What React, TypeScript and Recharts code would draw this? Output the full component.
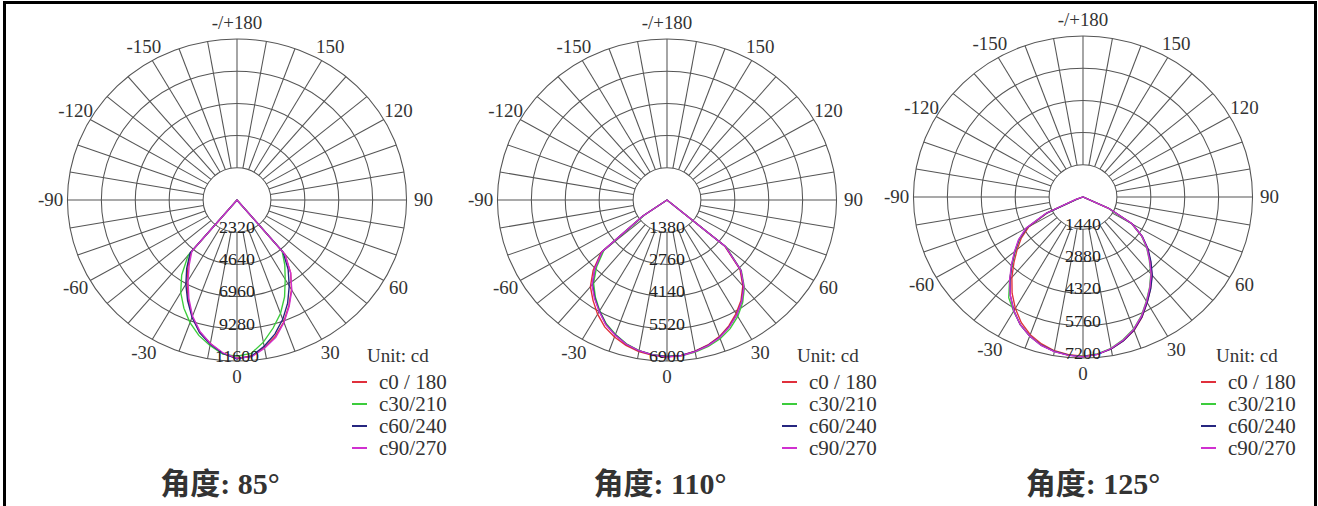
import React from 'react'
import { RadarChart, Radar, PolarGrid, PolarAngleAxis, PolarRadiusAxis } from 'recharts'

// gamma angles (deg from nadir) at which the intensity values below are read
const gammaAngles = [
  -75, -70, -65, -60, -55, -50, -45, -40, -35, -30, -25, -20, -15, -10, -5, 0,
  5, 10, 15, 20, 25, 30, 35, 40, 45, 50, 55, 60, 65, 70, 75,
]

// 85 degree beam
const c0_85 = [0, 0, 0, 0, 0, 0, 0, 4900, 5850, 6850, 7900, 8950, 9850, 10500, 11100, 11400, 11300, 10800, 10150, 9350, 8400, 7450, 6400, 5100, 0, 0, 0, 0, 0, 0, 0]
const c30_85 = [0, 0, 0, 0, 0, 0, 0, 5200, 6600, 7700, 8600, 9400, 10100, 10650, 11150, 11250, 11100, 10400, 9550, 8700, 7700, 6600, 5700, 4800, 0, 0, 0, 0, 0, 0, 0]
const c60_85 = [0, 0, 0, 0, 0, 0, 0, 5000, 6000, 7000, 8000, 9000, 9900, 10550, 11100, 11450, 11300, 10700, 10000, 9150, 8200, 7150, 6100, 4900, 0, 0, 0, 0, 0, 0, 0]
const c90_85 = [0, 0, 0, 0, 0, 0, 0, 4800, 5700, 6700, 7800, 8900, 9800, 10500, 11050, 11400, 11350, 10850, 10250, 9400, 8450, 7500, 6400, 5100, 0, 0, 0, 0, 0, 0, 0]

// 110 degree beam
const c0_110 = [0, 0, 0, 0, 1200, 3500, 4250, 4850, 5250, 5650, 6000, 6250, 6450, 6600, 6680, 6720, 6680, 6580, 6430, 6230, 5950, 5620, 5250, 4800, 4200, 3050, 0, 0, 0, 0, 0]
const c30_110 = [0, 0, 0, 0, 1100, 3350, 4050, 4650, 5080, 5480, 5850, 6130, 6380, 6550, 6650, 6700, 6700, 6620, 6500, 6330, 6080, 5760, 5370, 4900, 4280, 3150, 0, 0, 0, 0, 0]
const c60_110 = [0, 0, 0, 0, 1200, 3450, 4150, 4720, 5120, 5500, 5880, 6150, 6400, 6560, 6660, 6700, 6680, 6590, 6450, 6260, 5990, 5680, 5300, 4850, 4250, 3100, 0, 0, 0, 0, 0]
const c90_110 = [0, 0, 0, 0, 1250, 3450, 4150, 4750, 5150, 5520, 5900, 6170, 6400, 6560, 6660, 6730, 6700, 6600, 6460, 6270, 6000, 5680, 5300, 4870, 4250, 3100, 0, 0, 0, 0, 0]

// 125 degree beam
const c0_125 = [0, 300, 1650, 2650, 3200, 3650, 4150, 4700, 5250, 5750, 6200, 6550, 6800, 6980, 7080, 7120, 7050, 6900, 6650, 6350, 5930, 5450, 5000, 4550, 4050, 3580, 3050, 2400, 1200, 0, 0]
const c30_125 = [0, 300, 1700, 2750, 3300, 3750, 4250, 4850, 5500, 5900, 6300, 6620, 6860, 7010, 7100, 7130, 7040, 6870, 6600, 6280, 5860, 5380, 4930, 4480, 3980, 3530, 3030, 2380, 1180, 0, 0]
const c60_125 = [0, 300, 1700, 2750, 3320, 3780, 4280, 4820, 5380, 5870, 6300, 6620, 6860, 7010, 7100, 7140, 7060, 6900, 6650, 6330, 5920, 5450, 5010, 4580, 4080, 3600, 3080, 2420, 1220, 0, 0]
const c90_125 = [0, 320, 1750, 2800, 3350, 3800, 4300, 4850, 5380, 5880, 6300, 6620, 6870, 7020, 7110, 7150, 7060, 6880, 6620, 6300, 5880, 5400, 4950, 4500, 4000, 3550, 3050, 2400, 1200, 0, 0]

const ticks85 = [2320, 4640, 6960, 9280, 11600]
const ticks110 = [1380, 2760, 4140, 5520, 6900]
const ticks125 = [1440, 2880, 4320, 5760, 7200]

const seriesKeys = ['c0', 'c30', 'c60', 'c90']
const seriesNames = ['c0 / 180', 'c30/210', 'c60/240', 'c90/270']
const seriesColors = ['#e0303c', '#3ccc3c', '#262680', '#d030d0']

// angles around the circle: 0 = down, counter-clockwise, 180 = up
const gridAngles = Array.from({ length: 36 }, (_, i) => i * 10)
const curveAngles = Array.from({ length: 72 }, (_, i) => i * 5)

const SERIF = '"Liberation Serif", "Times New Roman", serif'
const R = 161
const W = 440
const H = 420
const CX = 220
const CY = 210
const STRETCH = 1.053

const angleLabel = (t: number) => (t === 180 ? '-/+180' : String(t > 180 ? t - 360 : t))

const buildRows = (values: number[][]) =>
  curveAngles.map((a) => {
    const g = a > 180 ? a - 360 : a
    const i = gammaAngles.indexOf(g)
    const row: Record<string, number> = { angle: a }
    seriesKeys.forEach((k, s) => {
      row[k] = i >= 0 ? values[s][i] : 0
    })
    return row
  })

const AngleTick = (props: any) => {
  const { x, y, payload } = props
  const v = Number(payload.value)
  if (v % 30 !== 0) return <g />
  return (
    <text x={x} y={y} textAnchor="middle" dominantBaseline="central" fontSize={18} fill="#333" fontFamily={SERIF}>
      {angleLabel(v)}
    </text>
  )
}

const RadiusTick = (props: any) => {
  const { x, y, payload } = props
  return (
    <text x={x} y={y - 5} textAnchor="middle" dominantBaseline="central" fontSize={17} fill="#222" fontFamily={SERIF}>
      {payload.value}
    </text>
  )
}

interface PanelProps {
  cx: number
  cy: number
  max: number
  ticks: number[]
  values: number[][]
  caption: string
  captionX: number
  legendX: number
}

function PolarPanel({ cx, cy, max, ticks, values, caption, captionX, legendX }: PanelProps) {
  const rows = buildRows(values)
  const gridRows = gridAngles.map((a) => ({ angle: a, r: max }))
  const layer: React.CSSProperties = { position: 'absolute', left: 0, top: 0 }

  return (
    <>
      <div
        style={{
          position: 'absolute', left: cx - CX, top: cy - CY, width: W, height: H,
          transform: `scaleX(${STRETCH})`, transformOrigin: `${CX}px ${CY}px`,
        }}
      >
        {/* grid: rings from max/5 to max, spokes every 10 deg starting at the first ring */}
        <div style={layer}>
          <RadarChart
            width={W} height={H} data={gridRows} cx={CX} cy={CY}
            innerRadius={R / 5} outerRadius={R} startAngle={-90} endAngle={270}
            margin={{ top: 0, right: 0, bottom: 0, left: 0 }}
          >
            <PolarGrid gridType="circle" stroke="#555" strokeWidth={1} />
            <PolarAngleAxis
              dataKey="angle" type="number" domain={[0, 360]} allowDataOverflow ticks={gridAngles}
              tickSize={16} tickLine={false} axisLine={false} tick={<AngleTick />}
            />
            <PolarRadiusAxis
              type="number" domain={[ticks[0], max]} allowDataOverflow ticks={ticks}
              tick={false} axisLine={false} tickLine={false}
            />
            <Radar dataKey="r" stroke="none" fill="none" fillOpacity={0} dot={false} isAnimationActive={false} />
          </RadarChart>
        </div>
        <div style={layer}>
          <RadarChart
            width={W} height={H} data={rows} cx={CX} cy={CY}
            innerRadius={0} outerRadius={R} startAngle={-90} endAngle={270}
            margin={{ top: 0, right: 0, bottom: 0, left: 0 }}
          >
            <PolarAngleAxis
              dataKey="angle" type="number" domain={[0, 360]} allowDataOverflow ticks={gridAngles}
              tick={false} tickLine={false} axisLine={false}
            />
            <PolarRadiusAxis
              angle={-90} type="number" domain={[0, max]} allowDataOverflow ticks={ticks}
              axisLine={false} tickLine={false} tick={<RadiusTick />}
            />
            {seriesKeys.map((k, i) => (
              <Radar
                key={k} dataKey={k} name={seriesNames[i]} stroke={seriesColors[i]} strokeWidth={1.3}
                fill="none" fillOpacity={0} dot={false} isAnimationActive={false}
              />
            ))}
          </RadarChart>
        </div>
      </div>

      {/* legend */}
      <div style={{ position: 'absolute', left: legendX + 15, top: 345, fontSize: 19, fontFamily: SERIF, color: '#333', lineHeight: '22px' }}>
        Unit: cd
      </div>
      {seriesNames.map((n, i) => (
        <div key={n} style={{ position: 'absolute', left: legendX, top: 371 + i * 22, height: 22, display: 'flex', alignItems: 'center' }}>
          <span style={{ display: 'inline-block', width: 15, height: 1.5, background: seriesColors[i] }} />
          <span style={{ marginLeft: 12, fontSize: 21, fontFamily: SERIF, color: '#333', lineHeight: '22px' }}>{n}</span>
        </div>
      ))}

      {/* caption */}
      <div
        style={{
          position: 'absolute', left: captionX - 120, width: 240, top: 465, textAlign: 'center',
          fontSize: 30, fontWeight: 'bold', fontFamily: '"Liberation Serif", "Noto Sans CJK SC", serif',
          color: '#333', lineHeight: '38px',
        }}
      >
        {caption}
      </div>
    </>
  )
}

export default function App() {
  return (
    <div style={{ position: 'fixed', left: 0, top: 0, width: 1318, height: 506, background: '#fff', overflow: 'hidden' }}>
      <div
        style={{
          position: 'absolute', left: 3, top: 1, width: 1308, height: 520,
          borderTop: '3px solid #000', borderLeft: '3px solid #000', borderRight: '3px solid #000',
        }}
      />
      <PolarPanel cx={237} cy={200} max={11600} ticks={ticks85} values={[c0_85, c30_85, c60_85, c90_85]} caption="角度: 85°" captionX={220} legendX={352} />
      <PolarPanel cx={667} cy={200} max={6900} ticks={ticks110} values={[c0_110, c30_110, c60_110, c90_110]} caption="角度: 110°" captionX={660} legendX={782} />
      <PolarPanel cx={1083} cy={197} max={7200} ticks={ticks125} values={[c0_125, c30_125, c60_125, c90_125]} caption="角度: 125°" captionX={1093} legendX={1201} />
    </div>
  )
}
